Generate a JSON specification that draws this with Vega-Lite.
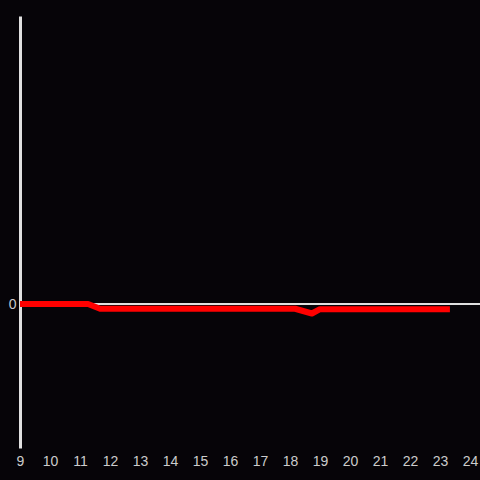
{
  "$schema": "https://vega.github.io/schema/vega-lite/v6.json",
  "width": 460,
  "height": 432,
  "autosize": {"type": "none"},
  "padding": {"left": 20, "top": 16, "right": 0, "bottom": 32},
  "background": "#060408",
  "config": {
    "view": {"stroke": null},
    "font": "Liberation Sans"
  },
  "data": {
    "values": [
      {"hour": 9.0, "value": 0},
      {"hour": 11.27, "value": 0},
      {"hour": 11.67, "value": -0.033},
      {"hour": 18.17, "value": -0.033},
      {"hour": 18.73, "value": -0.066},
      {"hour": 19.0, "value": -0.036},
      {"hour": 23.33, "value": -0.036}
    ]
  },
  "layer": [
    {
      "mark": {"type": "rule", "color": "#e0e0e0", "strokeWidth": 2},
      "encoding": {"y": {"datum": 0}}
    },
    {
      "mark": {"type": "line", "color": "#ff0000", "strokeWidth": 6, "strokeCap": "butt", "strokeJoin": "round"},
      "encoding": {
        "x": {
          "field": "hour",
          "type": "quantitative",
          "scale": {"domain": [9, 24.333], "nice": false, "zero": false},
          "axis": {
            "values": [9, 10, 11, 12, 13, 14, 15, 16, 17, 18, 19, 20, 21, 22, 23, 24],
            "format": "d",
            "domain": false,
            "ticks": false,
            "grid": false,
            "title": null,
            "labelColor": "#cccccc",
            "labelFontSize": 14,
            "labelPadding": 6,
            "labelFlush": false,
            "labelOverlap": false
          }
        },
        "y": {
          "field": "value",
          "type": "quantitative",
          "scale": {"domain": [-1, 2], "nice": false, "zero": false},
          "axis": {
            "values": [0],
            "format": "d",
            "domain": true,
            "domainColor": "#e0e0e0",
            "domainWidth": 3,
            "ticks": false,
            "grid": false,
            "title": null,
            "labelColor": "#cccccc",
            "labelFontSize": 14,
            "labelPadding": 4
          }
        }
      }
    }
  ]
}
